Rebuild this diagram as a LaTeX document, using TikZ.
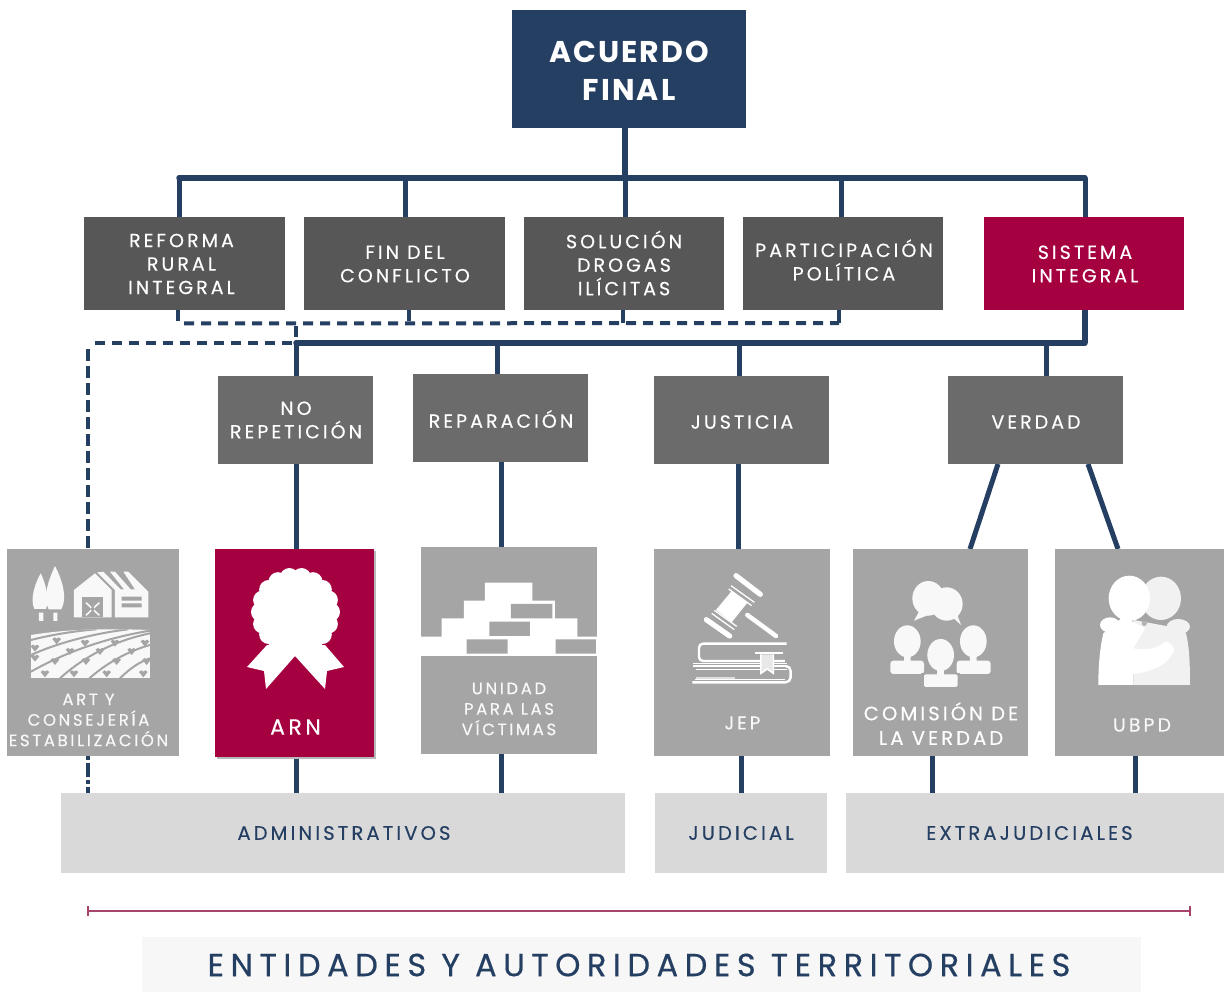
\documentclass[tikz,border=0pt]{standalone}
\usepackage{fontspec}
\setmainfont{Poppins}
\newfontfamily\wfont[LetterSpace=16,FakeBold=0.35]{Poppins}
\newfontfamily\afont[LetterSpace=7]{Poppins}
\newfontfamily\zfont[LetterSpace=20.5,FakeBold=0.5]{Poppins}
\usetikzlibrary{calc,backgrounds}
\definecolor{navy}{HTML}{253F63}
\definecolor{darkg}{HTML}{575757}
\definecolor{midg}{HTML}{6B6B6B}
\definecolor{lightg}{HTML}{A5A5A5}
\definecolor{crim}{HTML}{A50040}
\definecolor{paleg}{HTML}{D9D9D9}
\definecolor{band}{HTML}{F7F7F7}
\definecolor{pinkl}{HTML}{A8446C}
\definecolor{iconw}{HTML}{F8F8F8}
\definecolor{hugg}{HTML}{F1F1F1}
\newcommand{\bx}[7][]{\node[rectangle,draw=none,inner sep=0pt,outer sep=0pt,fill=#7,minimum width=#4-#3,minimum height=#6-#5,text=white,align=center,#1] (#2) at ({(#3+#4)/2},{(#5+#6)/2}) {};}
\tikzset{
  bus/.style={draw=navy,line width=5.5pt,line cap=round,line join=miter},
  conn/.style={draw=navy,line width=5pt},
  dashconn/.style={draw=navy,line width=4pt,dash pattern=on 10pt off 7pt},
  stubconn/.style={draw=navy,line width=4pt},
  lab/.style={text=white,font={\wfont\fontsize{19}{23.5}\selectfont},align=center,inner sep=0pt,outer sep=0pt},
  lab2/.style={text=iconw,font={\wfont\fontsize{16.5}{20.5}\selectfont},align=center,inner sep=0pt,outer sep=0pt},
  lab3/.style={text=navy,font={\wfont\fontsize{19.5}{22}\selectfont},align=center,inner sep=0pt,outer sep=0pt},
}
\begin{document}
\begin{tikzpicture}[x=1pt,y=-1pt]
\useasboundingbox (0,0) rectangle (1224,992);
% boxes
\bx{acuerdo}{512}{746}{10}{128}{navy}
\bx{reforma}{84}{285}{217}{310}{darkg}
\bx{fin}{304}{505}{217}{310}{darkg}
\bx{solucion}{524}{724}{217}{310}{darkg}
\bx{particip}{743}{943}{217}{310}{darkg}
\bx{sistema}{984}{1184}{217}{310}{crim}
\bx{norep}{218}{373}{376}{464}{midg}
\bx{repar}{413}{588}{374}{462}{midg}
\bx{justicia}{654}{829}{376}{464}{midg}
\bx{verdad}{948}{1123}{376}{464}{midg}
\bx{art}{7}{179}{549}{756}{lightg}
\fill[black!28] (217,551) rectangle (376,759);
\bx{arn}{215}{374}{549}{757}{crim}
\bx{unidad}{421}{597}{547}{754}{lightg}
\bx{jep}{654}{830}{549}{756}{lightg}
\bx{comision}{853}{1028}{549}{756}{lightg}
\bx{ubpd}{1055}{1224}{549}{756}{lightg}
\bx{admin}{61}{625}{793}{873}{paleg}
\bx{judicial}{655}{827}{793}{873}{paleg}
\bx{extra}{846}{1224}{793}{873}{paleg}
\bx{bandbox}{142}{1141}{937}{992}{band}
% junctions
\coordinate (topbusL) at (179,178);
\coordinate (topbusR) at (1085,178);
\coordinate (topA) at (625,178);
\coordinate (topB) at (405,178);
\coordinate (topC) at (841,178);
\coordinate (midL) at (296,343);
\coordinate (midR) at (1085,343);
\coordinate (midB) at (497,343);
\coordinate (midC) at (739,343);
\coordinate (midD) at (1046,343);
\coordinate (dashL) at (178,323);
\coordinate (dashB) at (409,323);
\coordinate (dashC) at (623,323);
\coordinate (dashR) at (839,323);
\coordinate (dashM) at (296,323);
\coordinate (farL) at (88,343);
\coordinate (lineL) at (88,911);
\coordinate (lineR) at (1190,911);
\begin{scope}[on background layer]
\draw[bus,line cap=butt] (topA |- acuerdo.south) -- (topA);
\draw[bus] (topbusL) -- (topbusR);
\draw[conn] (topbusL) -- (topbusL |- reforma.north);
\draw[conn] (topB) -- (topB |- fin.north);
\draw[conn] (topA) -- (topA |- solucion.north);
\draw[conn] (topC) -- (topC |- particip.north);
\draw[conn] (topbusR) -- (topbusR |- sistema.north);
\draw[bus,line cap=butt] (midR |- sistema.south) -- (midR);
\draw[bus] (midL) -- (midR);
\draw[conn] (midL) -- (midL |- norep.north);
\draw[conn] (midB) -- (midB |- repar.north);
\draw[conn] (midC) -- (midC |- justicia.north);
\draw[conn] (midD) -- (midD |- verdad.north);
\draw[conn] (midL |- norep.south) -- (midL |- arn.north);
\draw[conn] (midL |- arn.south) -- (midL |- admin.north);
\draw[conn] (501,462) -- (501,547);
\draw[conn] (501,754) -- (501,793);
\draw[conn] (738,464) -- (738,549);
\draw[conn] (741,756) -- (741,793);
\draw[conn] (998,464) -- (970,549);
\draw[conn] (1088,464) -- (1118,549);
\draw[conn] (932,756) -- (932,793);
\draw[conn] (1135,756) -- (1135,793);
\draw[stubconn] (dashL |- reforma.south) -- (178,321);
\draw[stubconn] (dashB |- fin.south) -- (dashB |- 0,321);
\draw[stubconn] (dashC |- solucion.south) -- (dashC);
\draw[stubconn] (dashR |- particip.south) -- (dashR);
\draw[dashconn] (184,323.5) -- (dashR);
\draw[stubconn] (296,326) -- (296,337);
\draw[dashconn] (292,343) -- (farL);
\draw[dashconn,dash pattern=on 12pt off 5pt] (farL) ++(0,6) -- (farL |- art.north);
\draw[dashconn,dash pattern=on 4pt off 3pt on 14pt off 3pt] (farL |- art.south) -- (farL |- admin.north);
\end{scope}
\draw[draw=pinkl,line width=2.6pt] (lineL) -- (lineR);
\draw[draw=pinkl,line width=1.4pt] ($(lineL)+(0,-5)$) -- ($(lineL)+(0,5)$);
\draw[draw=pinkl,line width=1.4pt] ($(lineR)+(0,-5)$) -- ($(lineR)+(0,5)$);
% labels
\node[text=white,align=center,inner sep=0pt,font={\afont\fontsize{30}{38}\bfseries\selectfont}] (tacuerdo) at (629,71) {ACUERDO\\FINAL};
\node[lab] (treforma) at (181.5,264) {REFORMA\\RURAL\\INTEGRAL};
\node[lab] (tfin) at (405,264) {FIN DEL\\CONFLICTO};
\node[lab] (tsol) at (624,263) {SOLUCIÓN\\DROGAS\\ILÍCITAS};
\node[lab] (tpart) at (844,260) {PARTICIPACIÓN\\POLÍTICA};
\node[lab] (tsis) at (1085,264) {SISTEMA\\INTEGRAL};
\node[lab] (tnorep) at (296,420) {NO\\REPETICIÓN};
\node[lab] (trep) at (501,419) {REPARACIÓN};
\node[lab] (tjus) at (742,422) {JUSTICIA};
\node[lab] (tver) at (1036,422) {VERDAD};
\node[lab2] (tart) at (88.5,720) {ART Y\\CONSEJERÍA\\ESTABILIZACIÓN};
\node[lab,font={\wfont\fontsize{22}{24}\selectfont}] (tarn) at (295.5,727) {ARN};
\node[lab2] (tuni) at (509,709) {UNIDAD\\PARA LAS\\VÍCTIMAS};
\node[lab2,font={\wfont\fontsize{18.5}{21}\selectfont}] (tjep) at (742.5,723) {JEP};
\node[lab,font={\wfont\fontsize{19.5}{24.5}\selectfont}] (tcom) at (941,723.5) {COMISIÓN DE\\LA VERDAD};
\node[lab2,font={\wfont\fontsize{19}{21}\selectfont}] (tub) at (1142,725) {UBPD};
\node[lab3] (tadm) at (344,833) {ADMINISTRATIVOS};
\node[lab3] (tjud) at (741,833) {JUDICIAL};
\node[lab3] (text) at (1029.5,833) {EXTRAJUDICIALES};
\node[text=navy,inner sep=0pt,font={\zfont\fontsize{32}{34}\selectfont}] (tent) at (639,965) {ENTIDADES Y AUTORIDADES TERRITORIALES};
% ART icon
\begin{scope}[shift={(0pt,-540pt)},x=0.3333pt,y=-0.3333pt]
\fill[iconw] (122,100) .. controls (108,125) and (88,175) .. (103,207) -- (138,207) .. controls (150,175) and (135,125) .. (122,100) -- cycle;
\fill[iconw] (165,78) .. controls (150,110) and (125,170) .. (146,208) -- (184,208) .. controls (205,170) and (182,110) .. (165,78) -- cycle;
\fill[iconw] (117,218) rectangle (130,243) (160,218) rectangle (172,243);
\fill[iconw] (222,232) -- (222,150) -- (285,100) -- (335,150) -- (335,232) -- cycle;
\fill[iconw] (345,232) -- (345,150) -- (292,97) -- (310,95) -- (362,148) -- (372,148) -- (330,95) -- (345,95) -- (392,148) -- (405,148) -- (370,95) -- (385,95) -- (445,155) -- (445,232) -- cycle;
\fill[lightg] (247,172) rectangle (310,232);
\draw[iconw,line width=1.6pt] (258,188) -- (298,226) (298,188) -- (258,226);
\fill[lightg] (278,207) circle (6);
\fill[lightg] (365,170) rectangle (425,182) (365,190) rectangle (425,202);
\begin{scope}
\clip (93,285) .. controls (200,268) and (300,265) .. (450,270) -- (450,415) -- (93,415) -- cycle;
\fill[iconw] (93,260) rectangle (450,415);
\draw[lightg,line width=2pt] (93,300) .. controls (150,285) and (230,272) .. (290,268);
\draw[lightg,line width=2pt] (93,345) .. controls (170,310) and (280,280) .. (385,268);
\draw[lightg,line width=2pt] (93,395) .. controls (190,340) and (310,295) .. (450,272);
\draw[lightg,line width=2pt] (180,415) .. controls (240,360) and (330,305) .. (450,280);
\draw[lightg,line width=2pt] (268,415) .. controls (320,370) and (380,335) .. (450,315);
\draw[lightg,line width=2pt] (360,415) .. controls (390,385) and (420,365) .. (450,355);
\foreach \p in {(170,303),(255,310),(345,310),(435,310),(105,325),(210,335),(300,335),(395,335),(165,365),(258,365),(350,365),(440,365),(105,355),(135,402),(222,402),(320,402),(430,402)}{
 \fill[lightg] \p ++(-13,-6) -- ++(13,16) -- ++(13,-16) -- ++(-7,-5) -- ++(-6,4) -- ++(-6,-4) -- cycle;
}
\end{scope}
\end{scope}
% Rosette
\begin{scope}
\fill[white] (267,645) -- (247,667) -- (264,671) -- (266,689) -- (295,656) -- (325,689) -- (327,671) -- (344,667) -- (325,645) -- cycle;
\fill[white] (295.5,612) circle (37);
\foreach \a in {0,20,...,340}{
 \fill[white] ($(295.5,612)+(\a:35)$) circle (9.5);
}
\end{scope}
% pyramid icon
\begin{scope}[shift={(410pt,-540pt)},x=0.3333pt,y=-0.3333pt]
\fill[white] (33,290) -- (95,290) -- (95,235) -- (162,235) -- (162,182) -- (225,182) -- (225,128) -- (367,128) -- (367,182) -- (435,182) -- (435,235) -- (502,235) -- (502,290) -- (562,290) -- (562,348) -- (33,348) -- cycle;
\fill[lightg] (303,192) rectangle (427,235) (238,245) rectangle (360,288) (170,298) rectangle (293,341) (437,298) rectangle (558,341);
\end{scope}
% gavel + books
\begin{scope}[shift={(685pt,-565pt)},x=0.3333pt,y=-0.3333pt]
\draw[white,line width=4.5pt,line cap=round] (187,150) -- (273,213);
\fill[white] (140,78) -- (188,112) -- (140,172) -- (93,135) -- cycle;
\draw[white,line width=5.2pt,line cap=round] (153,32) -- (226,88);
\draw[white,line width=5.2pt,line cap=round] (64,164) -- (134,213);
\draw[white,line width=1.3pt] (138,62) -- (208,112) (131,72) -- (200,122);
\draw[white,line width=1.3pt] (80,145) -- (148,194) (88,136) -- (155,184);
\draw[white,line width=2.4pt,rounded corners=4pt] (305,236) -- (42,236) -- (42,288) -- (300,288);
\fill[white] (210,261) rectangle (295,267);
\draw[white,line width=1.2pt] (25,296) -- (305,296);
\draw[white,line width=1.4pt] (25,303) -- (300,303);
\draw[white,line width=2.4pt,rounded corners=5pt] (300,303) -- (317,303) -- (317,352) -- (22,352);
\draw[white,line width=1.2pt] (32,313) -- (305,313);
\draw[white,line width=1.2pt] (30,344) -- (300,344);
\fill[white!65!lightg] (32,336) rectangle (150,343);
\fill[lightg] (228,268) -- (265,268) -- (265,325) -- (247,312) -- (228,325) -- cycle;
\draw[white,line width=1.5pt,fill=white!75!lightg] (228,268) -- (228,325) -- (247,312) -- (265,325) -- (265,268);
\end{scope}
% comision icon
\begin{scope}[shift={(840pt,-540pt)},x=0.3333pt,y=-0.3333pt]
\fill[iconw] (265,175) ellipse (48 and 52);
\fill[iconw] (320,192) ellipse (48 and 50);
\fill[iconw] (240,210) -- (222,242) -- (265,225) -- cycle;
\fill[iconw] (330,225) -- (363,255) -- (345,205) -- cycle;
\fill[iconw] (202,304) ellipse (40 and 48);
\fill[iconw] (400,304) ellipse (40 and 48);
\fill[iconw] (192,345) rectangle (212,365) (390,345) rectangle (410,365);
\fill[iconw,rounded corners=3pt] (151,402) -- (151,362) -- (252,362) -- (252,402) -- cycle;
\fill[iconw,rounded corners=3pt] (350,402) -- (350,362) -- (452,362) -- (452,402) -- cycle;
\fill[lightg] (302,345) ellipse (46 and 54);
\fill[iconw] (302,345) ellipse (40 and 48);
\fill[lightg] (244,398) rectangle (361,441);
\fill[iconw] (292,385) rectangle (312,405);
\fill[iconw,rounded corners=2pt] (252,441) -- (252,403) -- (353,403) -- (353,441) -- cycle;
\end{scope}
% ubpd icon
\begin{scope}[shift={(1090pt,-570pt)},x=0.3333pt,y=-0.3333pt]
\fill[hugg] (213,85) ellipse (60 and 65);
\fill[hugg] (265,170) ellipse (35 and 23);
\fill[hugg] (130,345) -- (300,345) .. controls (300,280) and (298,230) .. (288,190) -- (240,170) -- (130,150) -- cycle;
\fill[white] (118,85) ellipse (62 and 68);
\fill[white] (60,165) ellipse (30 and 23);
\fill[white] (25,345) -- (130,345) -- (130,312) .. controls (190,305) and (240,280) .. (252,240) .. controls (250,225) and (238,215) .. (225,215) .. controls (200,240) and (160,240) .. (130,235) -- (165,175) -- (100,140) -- (40,190) .. controls (28,240) and (25,300) .. (25,345) -- cycle;
\fill[lightg!85!white] (163,160) circle (8);
\end{scope}
\end{tikzpicture}
\end{document}
